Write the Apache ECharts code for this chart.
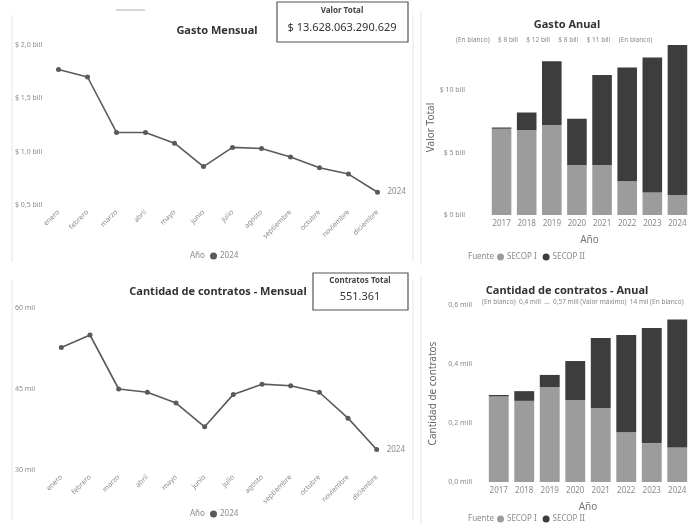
<!DOCTYPE html>
<html>
<head>
<meta charset="utf-8">
<script src="https://cdn.jsdelivr.net/npm/echarts@6/dist/echarts.min.js"></script>
<style>
html, body { margin: 0; padding: 0; background: #fff; }
#main { width: 693px; height: 530px; }
</style>
</head>
<body>
<div id="main"></div>
<script>
const months = ['enero', 'febrero', 'marzo', 'abril', 'mayo', 'junio', 'julio', 'agosto', 'septiembre', 'octubre', 'noviembre', 'diciembre']
const gastoMensual = [1.77, 1.70, 1.18, 1.18, 1.08, 0.86, 1.04, 1.03, 0.95, 0.85, 0.79, 0.62] // billones
const contratosMensual = [52.7, 55.0, 45.0, 44.4, 42.4, 38.0, 44.0, 45.9, 45.6, 44.4, 39.6, 33.8] // miles
const years = ['2017', '2018', '2019', '2020', '2021', '2022', '2023', '2024']
const gastoSecop1 = [6.9, 6.8, 7.2, 4.0, 4.0, 2.7, 1.8, 1.6]
const gastoSecop2 = [0.1, 1.4, 5.1, 3.7, 7.2, 9.1, 10.8, 12.0]
const contratosSecop1 = [0.29, 0.275, 0.322, 0.278, 0.251, 0.169, 0.132, 0.117]
const contratosSecop2 = [0.005, 0.033, 0.041, 0.132, 0.237, 0.329, 0.39, 0.434]

const FONT = 'Noto Sans'
const gray = '#8a8a8a'
const lightBar = '#9c9c9c'
const darkBar = '#3d3d3d'

function fmtNum (v, d) {
  return v.toFixed(d).replace('.', ',')
}

let chart = echarts.init(document.getElementById('main'))

let lineSeries = (name, data, xi) => ({
  name: name,
  type: 'line',
  xAxisIndex: xi,
  yAxisIndex: xi,
  data: data,
  symbol: 'circle',
  symbolSize: 5,
  lineStyle: { color: '#5a5a5a', width: 1.6 },
  itemStyle: { color: '#5a5a5a' },
  endLabel: { show: true, formatter: '2024', color: gray, fontSize: 8, fontFamily: FONT, distance: 10 }
})

let barSeries = (name, data, xi, color) => ({
  name: name,
  type: 'bar',
  stack: 's' + xi,
  xAxisIndex: xi,
  yAxisIndex: xi,
  data: data,
  barWidth: '78%',
  itemStyle: { color: color }
})

let monthAxis = (gi) => ({
  type: 'category',
  gridIndex: gi,
  data: months,
  axisLine: { show: false },
  axisTick: { show: false },
  axisLabel: { rotate: 45, fontSize: 7, color: gray, fontFamily: FONT, margin: 6, interval: 0 }
})

let yearAxis = (gi) => ({
  type: 'category',
  gridIndex: gi,
  data: years,
  name: 'Año',
  nameLocation: 'middle',
  nameGap: 20,
  nameTextStyle: { fontSize: 10, color: '#777', fontFamily: FONT },
  axisLine: { show: false },
  axisTick: { show: false },
  axisLabel: { fontSize: 8, color: gray, fontFamily: FONT, margin: 5, interval: 0 }
})

let legendBox = (names, left, top) => ({
  data: names,
  left: left,
  top: top,
  padding: 0,
  icon: 'circle',
  itemWidth: 7,
  itemHeight: 7,
  itemGap: 6,
  textStyle: { fontSize: 8, color: gray, padding: [0, 0, 0, -2] }
})

let option = {
  animation: false,
  backgroundColor: '#fff',
  textStyle: { fontFamily: FONT },
  title: [
    { text: 'Gasto Mensual', left: 212, top: 20, textAlign: 'center', textStyle: { fontSize: 11, fontWeight: 'bold', color: '#333', fontFamily: FONT } },
    { text: 'Gasto Anual', left: 562, top: 14, textAlign: 'center', textStyle: { fontSize: 11, fontWeight: 'bold', color: '#333', fontFamily: FONT } },
    { text: 'Cantidad de contratos - Mensual', left: 213, top: 281, textAlign: 'center', textStyle: { fontSize: 11, fontWeight: 'bold', color: '#333', fontFamily: FONT } },
    { text: 'Cantidad de contratos - Anual', left: 562, top: 280, textAlign: 'center', textStyle: { fontSize: 11, fontWeight: 'bold', color: '#333', fontFamily: FONT } }
  ],
  legend: [
    legendBox(['2024'], 210, 252),
    legendBox(['SECOP I', 'SECOP II'], 497, 253),
    legendBox(['2024'], 210, 510),
    legendBox(['SECOP I', 'SECOP II'], 497, 515)
  ],
  grid: [
    { left: 44, top: 45, width: 348, height: 160 },
    { left: 489, top: 40, width: 201, height: 175 },
    { left: 47, top: 308, width: 344, height: 162 },
    { left: 486, top: 305, width: 204, height: 177 }
  ],
  xAxis: [monthAxis(0), yearAxis(1), monthAxis(2), yearAxis(3)],
  yAxis: [
    {
      type: 'value', gridIndex: 0, min: 0.5, max: 2.0, interval: 0.5,
      splitLine: { show: false },
      axisLabel: { align: 'left', margin: 29, fontSize: 7, color: gray, formatter: v => '$ ' + fmtNum(v, 1) + ' bill' }
    },
    {
      type: 'value', gridIndex: 1, min: 0, max: 14, interval: 5,
      name: 'Valor Total', nameLocation: 'middle', nameGap: 52, nameRotate: 90,
      nameTextStyle: { fontSize: 10, color: '#666' },
      splitLine: { show: false },
      axisLabel: { margin: 24, fontSize: 7, color: gray, showMaxLabel: false, formatter: v => '$ ' + v + ' bill' }
    },
    {
      type: 'value', gridIndex: 2, min: 30, max: 60, interval: 15,
      splitLine: { show: false },
      axisLabel: { align: 'left', margin: 32, fontSize: 7, color: gray, formatter: v => v + ' mil' }
    },
    {
      type: 'value', gridIndex: 3, min: 0, max: 0.6, interval: 0.2,
      name: 'Cantidad de contratos', nameLocation: 'middle', nameGap: 48, nameRotate: 90,
      nameTextStyle: { fontSize: 10, color: '#666' },
      splitLine: { show: false },
      axisLabel: { margin: 14, fontSize: 7, color: gray, formatter: v => fmtNum(v, 1) + ' mill' }
    }
  ],
  series: [
    lineSeries('2024', gastoMensual, 0),
    barSeries('SECOP I', gastoSecop1, 1, lightBar),
    barSeries('SECOP II', gastoSecop2, 1, darkBar),
    lineSeries('2024', contratosMensual, 2),
    barSeries('SECOP I', contratosSecop1, 3, lightBar),
    barSeries('SECOP II', contratosSecop2, 3, darkBar)
  ],
  graphic: [
    // bordes de paneles
    { type: 'line', shape: { x1: 12, y1: 15, x2: 12, y2: 262 }, style: { stroke: '#e6e6e6', lineWidth: 1 } },
    { type: 'line', shape: { x1: 413, y1: 15, x2: 413, y2: 262 }, style: { stroke: '#e6e6e6', lineWidth: 1 } },
    { type: 'line', shape: { x1: 12, y1: 280, x2: 12, y2: 520 }, style: { stroke: '#e6e6e6', lineWidth: 1 } },
    { type: 'line', shape: { x1: 413, y1: 280, x2: 413, y2: 520 }, style: { stroke: '#e6e6e6', lineWidth: 1 } },
    { type: 'line', shape: { x1: 421, y1: 10, x2: 421, y2: 265 }, style: { stroke: '#e6e6e6', lineWidth: 1 } },
    { type: 'line', shape: { x1: 421, y1: 275, x2: 421, y2: 525 }, style: { stroke: '#e6e6e6', lineWidth: 1 } },
    { type: 'line', shape: { x1: 116, y1: 10, x2: 145, y2: 10 }, style: { stroke: '#c8c8c8', lineWidth: 1.5 } },
    // tarjetas KPI
    { type: 'rect', shape: { x: 277, y: 2, width: 131, height: 40 }, style: { fill: '#fff', stroke: '#555', lineWidth: 1.2 } },
    { type: 'text', x: 342, y: 7, style: { text: 'Valor Total', fontSize: 8, fontWeight: 'bold', fill: '#444', align: 'center', fontFamily: FONT } },
    { type: 'text', x: 342, y: 22, style: { text: '$ 13.628.063.290.629', fontSize: 11, fill: '#333', align: 'center', fontFamily: FONT } },
    { type: 'rect', shape: { x: 313, y: 273, width: 95, height: 37 }, style: { fill: '#fff', stroke: '#555', lineWidth: 1.2 } },
    { type: 'text', x: 360, y: 277, style: { text: 'Contratos Total', fontSize: 8, fontWeight: 'bold', fill: '#444', align: 'center', fontFamily: FONT } },
    { type: 'text', x: 360, y: 291, style: { text: '551.361', fontSize: 11, fill: '#333', align: 'center', fontFamily: FONT } },
    // textos auxiliares
    { type: 'text', x: 456, y: 37, style: { text: '(En blanco)     $ 8 bill     $ 12 bill     $ 8 bill     $ 11 bill     (En blanco)', fontSize: 6.5, fill: '#888', fontFamily: FONT } },
    { type: 'text', x: 482, y: 299, style: { text: '(En blanco)  0,4 mill  ...  0,57 mill (Valor máximo)  14 mil (En blanco)', fontSize: 6.5, fill: '#888', fontFamily: FONT } },
    { type: 'text', x: 190, y: 252, style: { text: 'Año', fontSize: 8, fill: gray, fontFamily: FONT } },
    { type: 'text', x: 190, y: 510, style: { text: 'Año', fontSize: 8, fill: gray, fontFamily: FONT } },
    { type: 'text', x: 468, y: 253, style: { text: 'Fuente', fontSize: 8, fill: gray, fontFamily: FONT } },
    { type: 'text', x: 468, y: 515, style: { text: 'Fuente', fontSize: 8, fill: gray, fontFamily: FONT } }
  ]
}

chart.setOption(option)
</script>
</body>
</html>
